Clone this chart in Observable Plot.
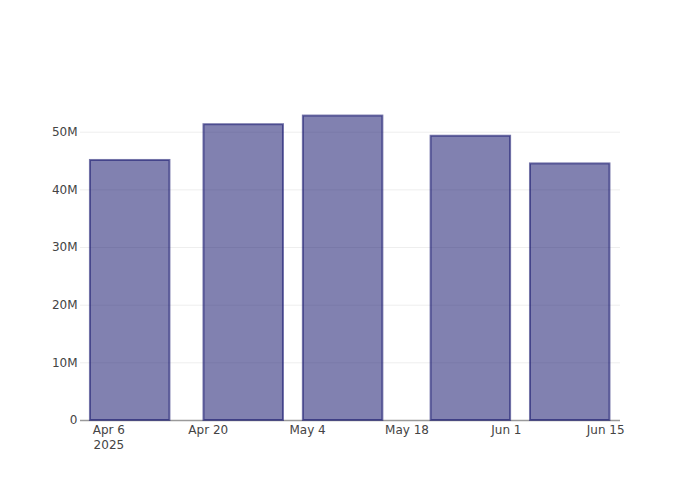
<!DOCTYPE html>
<html><head><meta charset="utf-8">
<script src="https://cdn.jsdelivr.net/npm/d3@7"></script>
<script src="https://cdn.jsdelivr.net/npm/@observablehq/plot@0.6"></script>
<style>body{margin:0;background:#fff}</style>
</head><body><div id="chart"></div>
<script>
const dates = ["2025-04-09", "2025-04-25", "2025-05-09", "2025-05-27", "2025-06-10"];
const values = [45.1e6, 51.3e6, 52.8e6, 49.3e6, 44.5e6];
const xTicks = ["2025-04-06", "2025-04-20", "2025-05-04", "2025-05-18", "2025-06-01", "2025-06-15"];
const yTicks = [0, 10e6, 20e6, 30e6, 40e6, 50e6];

const parsed = dates.map(d => new Date(d));
const gapMs = d3.min(d3.pairs(parsed), ([a, b]) => b - a);
const half = gapMs * 0.4;
const data = parsed.map((d, i) => ({date: d, value: values[i], x1: new Date(+d - half), x2: new Date(+d + half)}));
const xTickDates = xTicks.map(d => new Date(d));
const fmt = d3.utcFormat("%b %-d");

const chart = Plot.plot({
  width: 700, height: 500,
  marginLeft: 80, marginRight: 80, marginTop: 100, marginBottom: 80,
  style: {fontFamily: "DejaVu Sans", fontSize: "12px", color: "#444", background: "#fff"},
  x: {type: "utc", domain: [new Date("2025-04-02T00:00Z"), new Date("2025-06-17T02:00Z")]},
  y: {domain: [0, 55.5e6]},
  marks: [
    Plot.gridY(yTicks.slice(1), {stroke: "#eee", strokeOpacity: 1}),
    Plot.axisY(yTicks, {tickSize: 0, tickPadding: 3, tickFormat: d => d === 0 ? "0" : d / 1e6 + "M", label: null, fill: "#444"}),
    Plot.axisX(xTickDates, {tickSize: 0, tickPadding: 2, lineHeight: 1.3, label: null, fill: "#444",
      tickFormat: d => +d === +xTickDates[0] ? fmt(d) + "\n2025" : fmt(d)}),
    Plot.ruleY([0], {stroke: "#9a9a9a", strokeWidth: 1.5}),
    Plot.rectY(data, {x1: "x1", x2: "x2", y: "value", fill: "midnightblue", fillOpacity: 0.55,
      stroke: "midnightblue", strokeOpacity: 0.6, strokeWidth: 2})
  ]
});
document.getElementById("chart").append(chart);
</script>
</body></html>
